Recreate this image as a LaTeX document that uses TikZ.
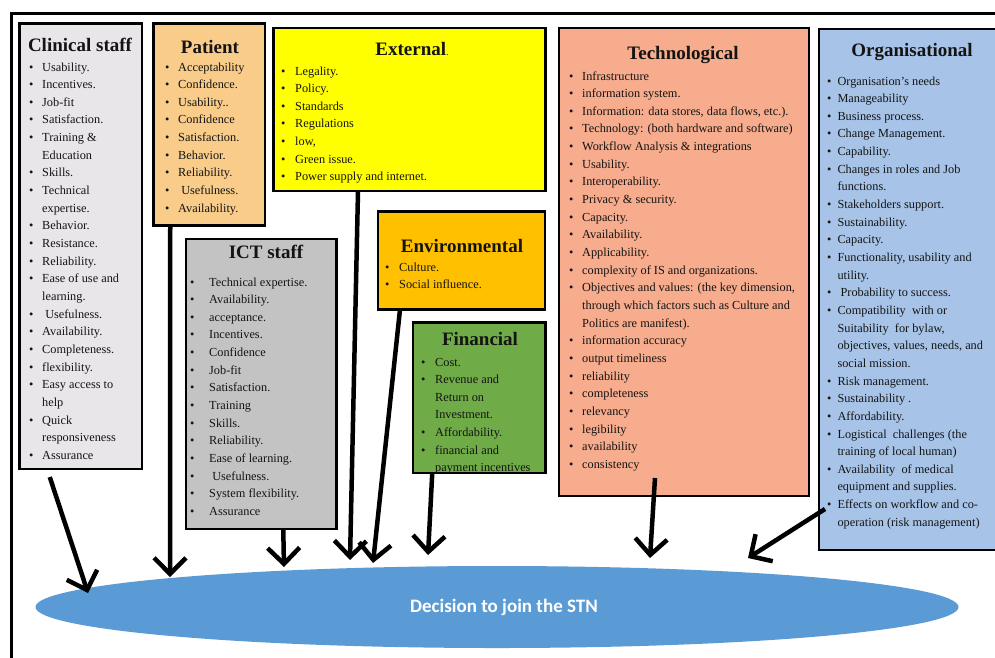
\documentclass[tikz,border=0pt]{standalone}
\usepackage{fontspec}
\setmainfont{Liberation Serif}
\newfontfamily\calib{Carlito}
\usetikzlibrary{arrows.meta,shapes.geometric}
\definecolor{clinc}{HTML}{E8E6E8}
\definecolor{patc}{HTML}{F9CC8A}
\definecolor{extc}{HTML}{FFFF00}
\definecolor{ictc}{HTML}{C3C3C3}
\definecolor{envc}{HTML}{FFC000}
\definecolor{finc}{HTML}{6FAB46}
\definecolor{techc}{HTML}{F6AC8D}
\definecolor{orgc}{HTML}{A7C4E8}
\definecolor{ellc}{HTML}{5B9BD5}
\definecolor{txt}{HTML}{141414}
\newcommand{\blist}[2]{\begin{tabular}[t]{@{}l@{\hspace{#1}}l@{}}#2\end{tabular}}
\newcommand{\bu}{\textbullet}
\begin{document}
\begin{tikzpicture}[x=1pt,y=-1pt,
  box/.style={draw=black, line width=2.6pt, inner sep=0pt, outer sep=0pt, anchor=north west},
  ttl/.style={font=\fontsize{19}{22}\selectfont\bfseries, anchor=base, inner sep=0pt, text=txt},
  lst/.style={font=\fontsize{12.3}{17.65}\selectfont, anchor=base west, inner sep=0pt, text=txt},
  arr/.style={line width=4.5pt, -{Straight Barb[length=16pt,width=32pt]}}]
\useasboundingbox (0,0) rectangle (995,657);
\clip (0,0) rectangle (995,657);
\fill[white] (0,0) rectangle (995,657);
\draw[line width=2.8pt] (11.5,700) -- (11.5,13.5) -- (1010,13.5);

% ellipse
\node[ellipse, fill=ellc, minimum width=923pt, minimum height=82pt, inner sep=0pt] (dec) at (497,607) {};
\node[font=\calib\fontsize{19}{22}\selectfont\bfseries, text=white, inner sep=0pt] (dect) at (504,607) {Decision to join the STN};

% boxes
\node[box, fill=clinc, minimum width=122.5pt, minimum height=445.5pt] (clin) at (19.5,23.5) {};
\node[box, fill=patc, minimum width=111.5pt, minimum height=202pt] (pat) at (153.5,23.5) {};
\node[box, fill=extc, minimum width=272pt, minimum height=163pt] (ext) at (273.5,28) {};
\node[box, fill=ictc, minimum width=150.5pt, minimum height=290pt] (ict) at (186,239) {};
\node[box, fill=envc, minimum width=167pt, minimum height=98pt] (env) at (378,211.5) {};
\node[box, fill=finc, minimum width=132.5pt, minimum height=150.5pt] (fin) at (413,322.5) {};
\node[box, fill=techc, minimum width=250pt, minimum height=468pt] (tech) at (559,28) {};
\node[box, fill=orgc, minimum width=191pt, minimum height=521pt] (org) at (819,29) {};

% titles
\node[ttl] (clint) at (80,51) {Clinical staff};
\node[ttl] (patt) at (210,53) {Patient};
\node[ttl] (extt) at (412,55) {External{\mdseries\fontsize{10}{12}\selectfont.}};
\node[ttl] (ictt) at (266,258) {ICT staff};
\node[ttl] (envt) at (462,252) {Environmental};
\node[ttl] (fint) at (480,345) {Financial};
\node[ttl] (techt) at (683,59) {Technological};
\node[ttl] (orgt) at (912,56) {Organisational};

% lists
\node[lst] (clinl) at (29,71) {\blist{8.7pt}{%
\bu & Usability.\\
\bu & Incentives.\\
\bu & Job-fit\\
\bu & Satisfaction.\\
\bu & Training \&\\
 & Education\\
\bu & Skills.\\
\bu & Technical\\
 & expertise.\\
\bu & Behavior.\\
\bu & Resistance.\\
\bu & Reliability.\\
\bu & Ease of use and\\
 & learning.\\
\bu & \ Usefulness.\\
\bu & Availability.\\
\bu & Completeness.\\
\bu & flexibility.\\
\bu & Easy access to\\
 & help\\
\bu & Quick\\
 & responsiveness\\
\bu & Assurance}};

\node[lst] (patl) at (165,71) {\blist{8.7pt}{%
\bu & Acceptability\\
\bu & Confidence.\\
\bu & Usability..\\
\bu & Confidence\\
\bu & Satisfaction.\\
\bu & Behavior.\\
\bu & Reliability.\\
\bu & \ Usefulness.\\
\bu & Availability.}};

\node[lst] (extl) at (281,75) {\blist{9.7pt}{%
\bu & Legality.\\
\bu & Policy.\\
\bu & Standards\\
\bu & Regulations\\
\bu & low,\\
\bu & Green issue.\\
\bu & Power supply and internet.}};

\node[lst] (ictl) at (190,286) {\blist{14.7pt}{%
\bu & Technical expertise.\\
\bu & Availability.\\
\bu & acceptance.\\
\bu & Incentives.\\
\bu & Confidence\\
\bu & Job-fit\\
\bu & Satisfaction.\\
\bu & Training\\
\bu & Skills.\\
\bu & Reliability.\\
\bu & Ease of learning.\\
\bu & \ Usefulness.\\
\bu & System flexibility.\\
\bu & Assurance}};

\node[lst] (envl) at (385,271) {\blist{9.7pt}{%
\bu & Culture.\\
\bu & Social influence.}};

\node[lst] (finl) at (421,366) {\blist{9.7pt}{%
\bu & Cost.\\
\bu & Revenue and\\
 & Return on\\
 & Investment.\\
\bu & Affordability.\\
\bu & financial and\\
 & payment incentives}};

\node[lst] (techl) at (569,80) {\blist{8.7pt}{%
\bu & Infrastructure\\
\bu & information system.\\
\bu & Information: data stores, data flows, etc.).\\
\bu & Technology: (both hardware and software)\\
\bu & Workflow Analysis \& integrations\\
\bu & Usability.\\
\bu & Interoperability.\\
\bu & Privacy \& security.\\
\bu & Capacity.\\
\bu & Availability.\\
\bu & Applicability.\\
\bu & complexity of IS and organizations.\\
\bu & Objectives and values: (the key dimension,\\
 & through which factors such as Culture and\\
 & Politics\ are manifest).\\
\bu & information accuracy\\
\bu & output timeliness\\
\bu & reliability\\
\bu & completeness\\
\bu & relevancy\\
\bu & legibility\\
\bu & availability\\
\bu & consistency}};

\node[lst] (orgl) at (827,85) {\blist{6pt}{%
\bu & Organisation’s needs\\
\bu & Manageability\\
\bu & Business process.\\
\bu & Change Management.\\
\bu & Capability.\\
\bu & Changes in roles and Job\\
 & functions.\\
\bu & Stakeholders support.\\
\bu & Sustainability.\\
\bu & Capacity.\\
\bu & Functionality, usability and\\
 & utility.\\
\bu & \ Probability to success.\\
\bu & Compatibility\ \ with or\\
 & Suitability\ \ for bylaw,\\
 & objectives, values, needs, and\\
 & social mission.\\
\bu & Risk management.\\
\bu & Sustainability .\\
\bu & Affordability.\\
\bu & Logistical\ \ challenges (the\\
 & training of local human)\\
\bu & Availability\ \ of medical\\
 & equipment and supplies.\\
\bu & Effects on workflow and co-\\
 & operation (risk management)}};

% arrow tips
\coordinate (t1) at (88,593);
\coordinate (t2) at (170,577);
\coordinate (t3) at (284,567);
\coordinate (t4) at (350,560);
\coordinate (t5) at (373,563);
\coordinate (t6) at (428,555);
\coordinate (t7) at (650,558);
\coordinate (t8) at (748,558);

\draw[arr] ([xshift=-31pt,yshift=-8pt]clin.south) -- (t1);
\draw[arr] ([xshift=-39pt]pat.south) -- (t2);
\draw[arr] ([xshift=22pt]ict.south) -- (t3);
\draw[arr] ([xshift=-51.5pt]ext.south) -- (t4);
\draw[arr] ([xshift=-61.5pt]env.south) -- (t5);
\draw[arr] ([xshift=-47pt]fin.south) -- (t6);
\draw[arr] ([xshift=-29pt,yshift=18pt]tech.south) -- (t7);
\draw[arr] ([xshift=6pt,yshift=41pt]org.south west) -- (t8);
\end{tikzpicture}
\end{document}
